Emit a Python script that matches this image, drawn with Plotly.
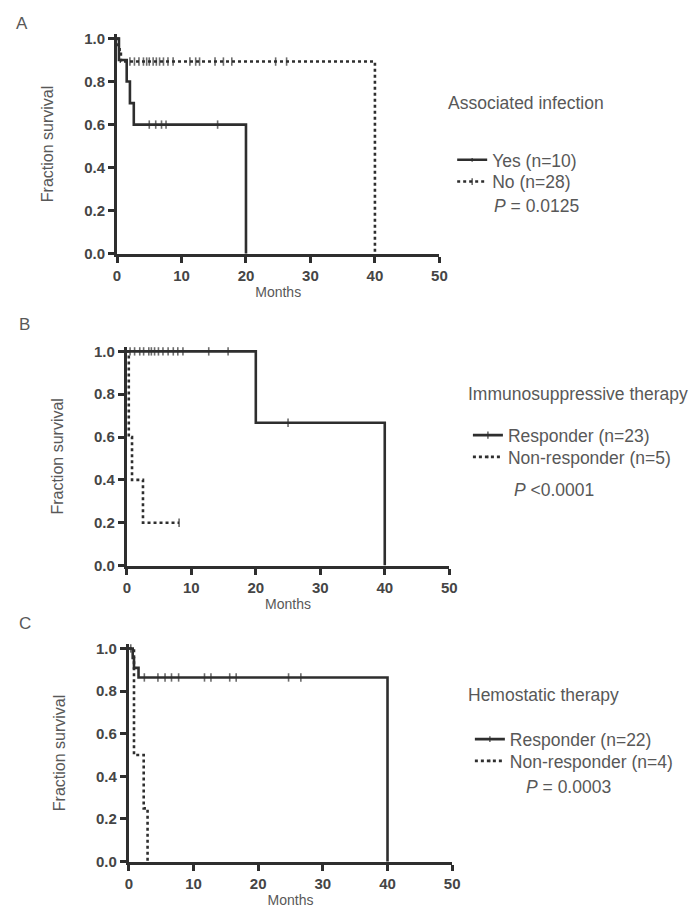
import plotly.graph_objects as go

# ---------------- data ----------------
# Panel A: Associated infection
A_yes_t = [0, 0.3, 1.5, 2.0, 2.6, 20]
A_yes_s = [1.0, 0.9, 0.8, 0.7, 0.6, 0.0]
A_yes_cens_t = [5.0, 6.0, 6.9, 7.6, 15.6]
A_yes_cens_s = [0.6, 0.6, 0.6, 0.6, 0.6]

A_no_t = [0, 0.2, 0.4, 0.6, 40]
A_no_s = [1.0, 0.964, 0.929, 0.893, 0.0]
A_no_cens_t = [2.0, 2.7, 3.4, 4.1, 4.6, 5.0, 5.6, 6.1, 6.6, 7.2, 7.9, 8.7,
               11.3, 12.2, 12.8, 15.2, 16.5, 17.8, 24.6, 26.3]
A_no_cens_s = [0.893] * 20

# Panel B: Immunosuppressive therapy
B_resp_t = [0, 20, 40]
B_resp_s = [1.0, 0.667, 0.0]
B_resp_cens_t = [0.5, 1.2, 2.0, 2.6, 3.4, 3.8, 4.3, 4.9, 5.6, 6.4, 7.2, 7.9, 8.7, 12.7, 15.7, 25.0]
B_resp_cens_s = [1.0] * 15 + [0.667]

B_non_t = [0, 0.3, 0.8, 2.5]
B_non_s = [1.0, 0.6, 0.4, 0.2]
B_non_cens_t = [8.1]
B_non_cens_s = [0.2]

# Panel C: Hemostatic therapy
C_resp_t = [0, 0.6, 0.8, 1.5, 40]
C_resp_s = [1.0, 0.955, 0.909, 0.864, 0.0]
C_resp_cens_t = [0.3, 2.4, 4.5, 5.6, 6.6, 7.7, 11.7, 12.7, 15.6, 16.6, 24.7, 26.6]
C_resp_cens_s = [1.0] + [0.864] * 11

C_non_t = [0, 0.8, 2.3, 2.9]
C_non_s = [1.0, 0.5, 0.25, 0.0]
C_non_cens_t = []
C_non_cens_s = []

x_ticks = [0, 10, 20, 30, 40, 50]
y_ticks = [0.0, 0.2, 0.4, 0.6, 0.8, 1.0]
y_tick_text = ["0.0", "0.2", "0.4", "0.6", "0.8", "1.0"]

panel_titles = ["Associated infection", "Immunosuppressive therapy", "Hemostatic therapy"]
panel_letters = ["A", "B", "C"]
p_texts = ["<i>P</i> = 0.0125", "<i>P</i> &lt;0.0001", "<i>P</i> = 0.0003"]
series_names = [("Yes (n=10)", "No (n=28)"),
                ("Responder (n=23)", "Non-responder (n=5)"),
                ("Responder (n=22)", "Non-responder (n=4)")]

# ---------------- layout geometry (pixels) ----------------
W, H = 700, 917
LINE = "#2e2e2e"
TXT = "#585858"
TICKTXT = "#454545"
FONT = "Liberation Sans, Arial, sans-serif"
YTOP = 1.02  # small headroom so the 1.0 lines are not clipped

# (x0px, x50px, y0px, y1px)
geo = [(115, 443, 253, 35), (125, 453, 569, 352), (127, 456, 869, 653)]


def merge(t, s, ct, cs):
    pts = [(a, 0, b) for a, b in zip(t, s)] + [(a, 1, b) for a, b in zip(ct, cs)]
    pts.sort(key=lambda p: (p[0], p[1]))
    xs = [p[0] for p in pts]
    ys = [p[2] for p in pts]
    sz = [6 if p[1] else 0 for p in pts]
    return xs, ys, sz


fig = go.Figure()

series = [
    ((A_yes_t, A_yes_s, A_yes_cens_t, A_yes_cens_s), (A_no_t, A_no_s, A_no_cens_t, A_no_cens_s)),
    ((B_resp_t, B_resp_s, B_resp_cens_t, B_resp_cens_s), (B_non_t, B_non_s, B_non_cens_t, B_non_cens_s)),
    ((C_resp_t, C_resp_s, C_resp_cens_t, C_resp_cens_s), (C_non_t, C_non_s, C_non_cens_t, C_non_cens_s)),
]

legend_x = [456, 472, 474]
legend_rows = [(158, 180), (437, 459), (745, 767)]
title_pos = [(450, 100), (470, 395), (470, 700)]
p_pos = [(497, 205), (517, 492), (529, 793)]
letter_pos = [(10, 20), (13, 325), (13, 628)]

layout_axes = {}
annotations = []
legend_count = 0
for i in range(3):
    sfx = "" if i == 0 else str(i + 1)
    x0, x50, y0, y1 = geo[i]
    ytop_px = y0 - (y0 - y1) * YTOP
    layout_axes["xaxis" + sfx] = dict(
        domain=[x0 / W, x50 / W], range=[0, 50], anchor="y" + sfx,
        tickvals=x_ticks, ticks="outside", ticklen=6, tickwidth=2.5, tickcolor=LINE,
        showline=True, linewidth=3, linecolor=LINE, showgrid=False, zeroline=False,
        tickfont=dict(family=FONT, size=15, color=TICKTXT, weight="bold"),
        title=dict(text="Months", font=dict(family=FONT, size=14, color=TXT), standoff=5),
    )
    layout_axes["yaxis" + sfx] = dict(
        domain=[1 - y0 / H, 1 - ytop_px / H], range=[0, YTOP], anchor="x" + sfx,
        tickvals=y_ticks, ticktext=y_tick_text, ticks="outside", ticklen=6, tickwidth=2.5,
        tickcolor=LINE, showline=True, linewidth=3, linecolor=LINE,
        showgrid=False, zeroline=False,
        tickfont=dict(family=FONT, size=15, color=TICKTXT, weight="bold"),
        title=dict(text="Fraction survival", font=dict(family=FONT, size=16, color=TXT), standoff=27),
    )
    for j, (dat, dash) in enumerate(zip(series[i], ["solid", "dot"])):
        legend_count += 1
        lg = "legend" if legend_count == 1 else "legend" + str(legend_count)
        xs, ys, sz = merge(*dat)
        fig.add_trace(go.Scatter(
            x=xs, y=ys, mode="lines+markers", line_shape="hv",
            line=dict(color=LINE, width=2.6, dash=dash),
            marker=dict(symbol="line-ns", size=sz, color=LINE, line=dict(color=LINE, width=1.6)),
            name=series_names[i][j], legend=lg, showlegend=True,
            xaxis="x" + sfx, yaxis="y" + sfx, cliponaxis=False,
        ))
        layout_axes[lg] = dict(
            x=legend_x[i] / W, y=1 - legend_rows[i][j] / H, xanchor="left", yanchor="middle",
            bgcolor="rgba(0,0,0,0)", itemwidth=30, visible=True,
            font=dict(family=FONT, size=17.5, color=TXT),
        )
    tx, ty = title_pos[i]
    annotations.append(dict(text=panel_titles[i], x=tx / W, y=1 - ty / H, xref="paper", yref="paper",
                            xanchor="left", yanchor="middle", showarrow=False,
                            font=dict(family=FONT, size=17.5, color=TXT)))
    px, py = p_pos[i]
    annotations.append(dict(text=p_texts[i], x=px / W, y=1 - py / H, xref="paper", yref="paper",
                            xanchor="left", yanchor="middle", showarrow=False,
                            font=dict(family=FONT, size=17.5, color=TXT)))
    lx2, ly2 = letter_pos[i]
    annotations.append(dict(text=panel_letters[i], x=lx2 / W, y=1 - ly2 / H, xref="paper", yref="paper",
                            xanchor="left", yanchor="middle", showarrow=False,
                            font=dict(family=FONT, size=17, color=TXT)))

fig.update_layout(
    width=W, height=H, margin=dict(l=0, r=0, t=0, b=0),
    paper_bgcolor="white", plot_bgcolor="white", showlegend=True,
    annotations=annotations, **layout_axes,
)

fig.write_html("out.html")
